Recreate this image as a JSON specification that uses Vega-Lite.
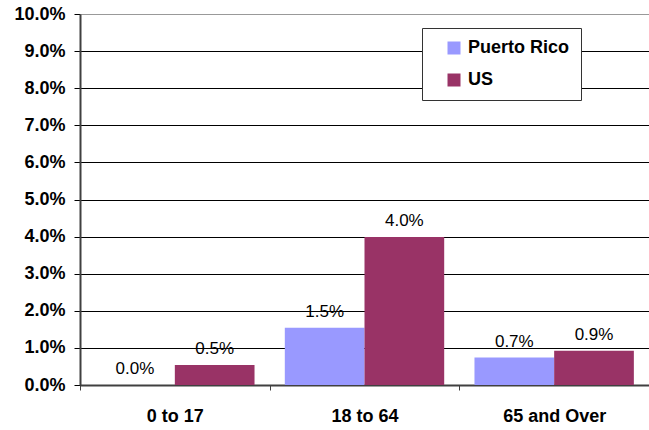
{
  "$schema": "https://vega.github.io/schema/vega-lite/v6.json",
  "autosize": {"type": "none"},
  "padding": {"left": 80, "top": 14, "right": 0, "bottom": 45},
  "width": 569,
  "height": 371,
  "background": "white",
  "config": {"view": {"stroke": null}, "font": "Liberation Sans"},
  "data": {"values": [
    {"group": "0 to 17", "series": "Puerto Rico", "value": 0.0},
    {"group": "0 to 17", "series": "US", "value": 0.0054},
    {"group": "18 to 64", "series": "Puerto Rico", "value": 0.0154},
    {"group": "18 to 64", "series": "US", "value": 0.0399},
    {"group": "65 and Over", "series": "Puerto Rico", "value": 0.0074},
    {"group": "65 and Over", "series": "US", "value": 0.0092}
  ]},
  "encoding": {
    "x": {"field": "group", "type": "nominal", "sort": null,
      "scale": {"paddingInner": 0, "paddingOuter": 0},
      "axis": {"title": null, "labelAngle": 0, "labelFont": "Liberation Sans", "labelFontWeight": "bold", "labelFontSize": 18, "labelColor": "black",
        "tickBand": "extent", "tickSize": 5, "tickColor": "#404040", "domainColor": "#404040", "domainWidth": 2, "labelPadding": 17}},
    "xOffset": {"field": "series", "type": "nominal", "scale": {"paddingOuter": 0.19, "paddingInner": 0}},
    "y": {"field": "value", "type": "quantitative",
      "scale": {"domain": [0, 0.1], "nice": false},
      "axis": {"title": null, "format": ".1%", "values": [0,0.01,0.02,0.03,0.04,0.05,0.06,0.07,0.08,0.09,0.1],
        "labelFont": "Liberation Sans", "labelFontWeight": "bold", "labelFontSize": 18, "labelColor": "black", "labelPadding": 9,
        "tickSize": 6, "tickColor": "black", "domainColor": "#404040", "domainWidth": 2,
        "grid": true, "gridColor": {"condition": {"test": "datum.value >= 0.1", "value": "#999999"}, "value": "black"}, "gridWidth": 1}}
  },
  "layer": [
    {"mark": {"type": "bar"},
      "encoding": {
        "color": {"field": "series", "type": "nominal",
          "scale": {"domain": ["Puerto Rico", "US"], "range": ["#9999FF", "#993366"]},
          "legend": {"title": null, "orient": "none", "legendX": 342, "legendY": 14,
            "direction": "vertical", "fillColor": "white", "strokeColor": "#333333", "padding": 11,
            "symbolType": "square", "symbolSize": 169, "symbolOpacity": 1, "symbolStrokeWidth": 0, "symbolOffset": 12,
            "labelFont": "Liberation Sans", "labelFontWeight": "bold", "labelFontSize": 18, "labelColor": "black",
            "rowPadding": 14, "labelOffset": 5}}
      }},
    {"mark": {"type": "text", "baseline": "bottom", "dy": -7, "font": "Liberation Sans", "fontSize": 17, "color": "black"},
      "encoding": {"text": {"field": "value", "type": "quantitative", "format": ".1%"}}}
  ]
}
